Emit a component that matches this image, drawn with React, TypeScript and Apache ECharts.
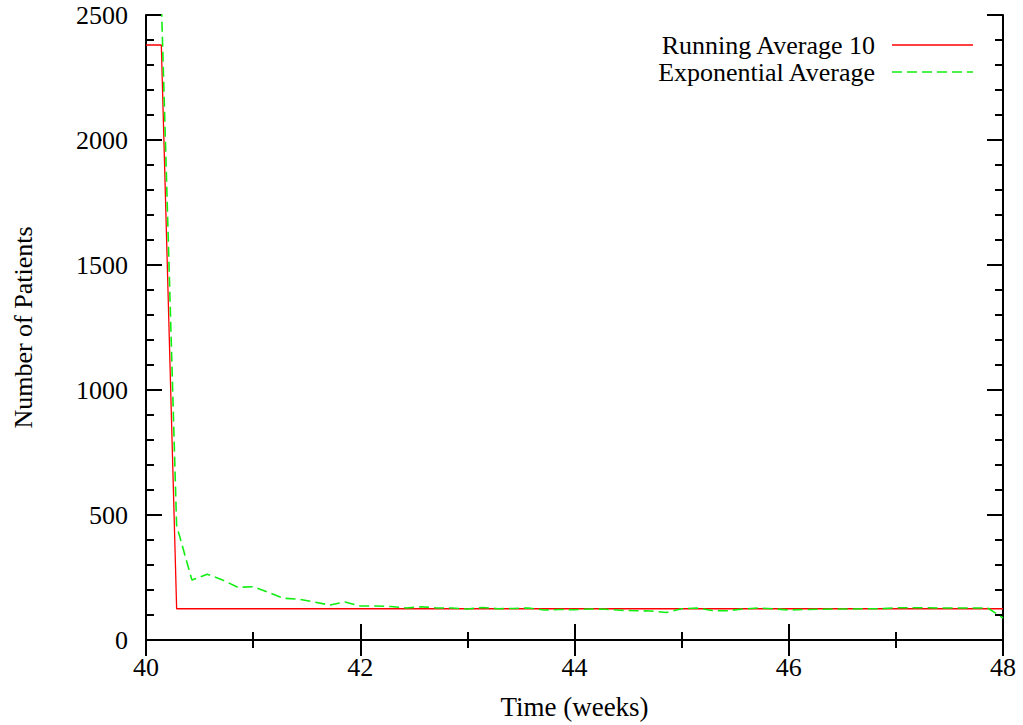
import React, { useEffect, useRef } from "react";
import * as echarts from "echarts";

// Running average (10) — x in weeks, y patients
const runningWeeks = [40, 40.143, 40.286, 48];
const runningAvg = [2380, 2380, 125, 125];

// Exponential average — one value per day starting at week 40
const expStartWeek = 40;
const daysPerWeek = 7;
const expAvg = [
  2700, 2560, 458, 240, 263, 240, 211, 213, 190, 167, 163, 152, 140, 152, 136,
  136, 134, 128, 133, 128, 128, 124, 130, 125, 126, 128, 120, 122, 121, 124,
  123, 119, 117, 116, 110, 125, 128, 118, 117, 124, 128, 125, 120, 122, 123,
  124, 124, 125, 125, 129, 129, 129, 128, 128, 128, 128, 88,
];

const xTicks = [40, 42, 44, 46, 48];
const yTicks = [0, 500, 1000, 1500, 2000, 2500];

const seriesNames = ["Running Average 10", "Exponential Average"];
const FONT = '"Liberation Serif", "Times New Roman", serif';

export default function App() {
  const ref = useRef<HTMLDivElement>(null);
  useEffect(() => {
    if (!ref.current) return;
    const chart = echarts.init(ref.current, null, { renderer: "svg" });
    const runningData = runningWeeks.map((w, i) => [w, runningAvg[i]]);
    const expData = expAvg.map((v, i) => [expStartWeek + i / daysPerWeek, v]);

    const axisLine = { show: true, lineStyle: { color: "#000", width: 2 } };
    const axisTick = { show: true, inside: true, length: 16, lineStyle: { color: "#000", width: 2 } };
    const minorTick = { show: true, length: 8, lineStyle: { color: "#000", width: 2 } };
    const xMin = xTicks[0], xMax = xTicks[xTicks.length - 1];
    const xInt = xTicks[1] - xTicks[0];
    const yMin = yTicks[0], yMax = yTicks[yTicks.length - 1];
    const yInt = yTicks[1] - yTicks[0];
    const fmt = (v: number) => String(v);

    chart.setOption({
      animation: false,
      backgroundColor: "#fff",
      textStyle: { fontFamily: FONT },
      grid: { left: 146, right: 20, top: 15, bottom: 83, containLabel: false },
      xAxis: [
        {
          type: "value",
          min: xMin, max: xMax, interval: xInt,
          name: "Time (weeks)",
          nameLocation: "middle",
          nameGap: 53,
          nameTextStyle: { fontFamily: FONT, fontSize: 27, color: "#000", verticalAlign: "top" },
          axisLine, axisTick,
          minorTick: { ...minorTick, splitNumber: 2 },
          splitLine: { show: false },
          axisLabel: { fontFamily: FONT, fontSize: 26, color: "#000", margin: 14, formatter: fmt },
        },
        {
          type: "value", position: "top",
          min: xMin, max: xMax, interval: xInt,
          axisLine, axisTick,
          minorTick: { ...minorTick, splitNumber: 2 },
          splitLine: { show: false },
          axisLabel: { show: false },
        },
      ],
      yAxis: [
        {
          type: "value",
          min: yMin, max: yMax, interval: yInt,
          name: "Number of Patients",
          nameLocation: "middle",
          nameGap: 110,
          nameRotate: 90,
          nameTextStyle: { fontFamily: FONT, fontSize: 26, color: "#000" },
          axisLine, axisTick,
          minorTick: { ...minorTick, splitNumber: 5 },
          splitLine: { show: false },
          axisLabel: { fontFamily: FONT, fontSize: 26, color: "#000", margin: 18, formatter: fmt },
        },
        {
          type: "value", position: "right",
          min: yMin, max: yMax, interval: yInt,
          axisLine, axisTick,
          minorTick: { ...minorTick, splitNumber: 5 },
          splitLine: { show: false },
          axisLabel: { show: false },
        },
      ],
      series: [
        {
          name: seriesNames[0],
          type: "line",
          data: runningData,
          showSymbol: false,
          symbol: "none",
          clip: true,
          lineStyle: { color: "#ff0000", width: 1.3 },
        },
        {
          name: seriesNames[1],
          type: "line",
          data: expData,
          showSymbol: false,
          symbol: "none",
          clip: true,
          lineStyle: { color: "#11ee11", width: 1.6, type: [10, 5] },
        },
      ],
      graphic: [
        {
          type: "text", x: 875, y: 45,
          style: {
            text: seriesNames[0], font: `26px ${FONT}`, fill: "#000",
            textAlign: "right", textVerticalAlign: "middle", verticalAlign: "middle",
          },
        },
        {
          type: "line",
          shape: { x1: 892, y1: 45, x2: 973, y2: 45 },
          style: { stroke: "#ff0000", lineWidth: 1.3 },
        },
        {
          type: "text", x: 875, y: 72,
          style: {
            text: seriesNames[1], font: `26px ${FONT}`, fill: "#000",
            textAlign: "right", textVerticalAlign: "middle", verticalAlign: "middle",
          },
        },
        {
          type: "line",
          shape: { x1: 892, y1: 72, x2: 973, y2: 72 },
          style: { stroke: "#11ee11", lineWidth: 1.6, lineDash: [10, 5] },
        },
      ],
    });
    return () => chart.dispose();
  }, []);
  return (
    <div
      ref={ref}
      style={{ position: "absolute", left: 0, top: 0, width: 1023, height: 725, background: "#fff" }}
    />
  );
}
